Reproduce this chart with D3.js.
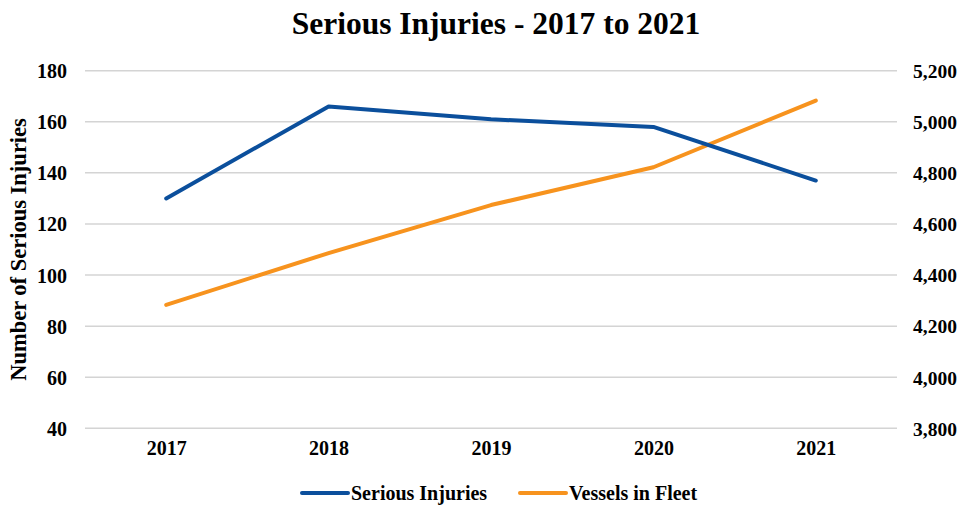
<!DOCTYPE html>
<html>
<head>
<meta charset="utf-8">
<script src="https://cdn.jsdelivr.net/npm/d3@7"></script>
<style>
  html, body { margin: 0; padding: 0; background: #fff; }
  svg text { font-family: "Liberation Serif", "Times New Roman", serif; font-weight: bold; fill: #000; }
</style>
</head>
<body>
<svg id="chart" width="961" height="505"></svg>
<script>
// Yearly figures
const years = ["2017", "2018", "2019", "2020", "2021"];
const seriousInjuries = [130, 166, 161, 158, 137];
const vesselsInFleet = [4283, 4486, 4674, 4822, 5083];

// Axis ticks
const leftTicks = [40, 60, 80, 100, 120, 140, 160, 180];
const rightTicks = [3800, 4000, 4200, 4400, 4600, 4800, 5000, 5200];

const seriesNames = ["Serious Injuries", "Vessels in Fleet"];
const colors = ["#0b4f9c", "#f7931e"];

const svg = d3.select("#chart");
const plot = { left: 85, right: 897, top: 70.7, bottom: 428.3 };

const x = d3.scalePoint().domain(years).range([plot.left, plot.right]).padding(0.5);
const yL = d3.scaleLinear().domain([40, 180]).range([plot.bottom, plot.top]);
const yR = d3.scaleLinear().domain([3800, 5200]).range([plot.bottom, plot.top]);

// Title
svg.append("text")
  .attr("x", 496).attr("y", 34)
  .attr("text-anchor", "middle")
  .style("font-size", "31.5px")
  .text("Serious Injuries - 2017 to 2021");

// Horizontal gridlines
svg.append("g").selectAll("line").data(leftTicks).join("line")
  .attr("x1", plot.left).attr("x2", plot.right)
  .attr("y1", d => yL(d)).attr("y2", d => yL(d))
  .attr("stroke", "#d4d4d4").attr("stroke-width", 1.5);

// Left axis labels
const leftAxis = d3.axisLeft(yL).tickValues(leftTicks).tickSize(0).tickPadding(18)
  .tickFormat(d3.format("d"));
const gL = svg.append("g").attr("transform", `translate(${plot.left},0)`).call(leftAxis);
gL.select(".domain").remove();
gL.selectAll("text").style("font-size", "20px").style("font-family", null).attr("dy", "0.35em");

// Right axis labels
const rightAxis = d3.axisRight(yR).tickValues(rightTicks).tickSize(0).tickPadding(16)
  .tickFormat(d3.format(","));
const gR = svg.append("g").attr("transform", `translate(${plot.right},0)`).call(rightAxis);
gR.select(".domain").remove();
gR.selectAll("text").style("font-size", "19.5px").style("font-family", null).attr("dy", "0.35em");

// Category axis labels
const bottomAxis = d3.axisBottom(x).tickSize(0).tickPadding(13);
const gB = svg.append("g").attr("transform", `translate(0,${plot.bottom})`).call(bottomAxis);
gB.select(".domain").remove();
gB.selectAll("text").style("font-size", "20px").style("font-family", null);

// Left axis title
svg.append("text")
  .attr("transform", `translate(26,${(plot.top + plot.bottom) / 2}) rotate(-90)`)
  .attr("text-anchor", "middle")
  .style("font-size", "22.5px")
  .text("Number of Serious Injuries");

// Lines
const lineL = d3.line().x((d, i) => x(years[i])).y(d => yL(d));
const lineR = d3.line().x((d, i) => x(years[i])).y(d => yR(d));

svg.append("path").datum(vesselsInFleet)
  .attr("d", lineR).attr("fill", "none")
  .attr("stroke", colors[1]).attr("stroke-width", 4)
  .attr("stroke-linejoin", "round").attr("stroke-linecap", "round");

svg.append("path").datum(seriousInjuries)
  .attr("d", lineL).attr("fill", "none")
  .attr("stroke", colors[0]).attr("stroke-width", 4)
  .attr("stroke-linejoin", "round").attr("stroke-linecap", "round");

// Legend
const legendItems = [
  { name: seriesNames[0], color: colors[0], x: 302 },
  { name: seriesNames[1], color: colors[1], x: 520 }
];
const lg = svg.append("g").selectAll("g").data(legendItems).join("g")
  .attr("transform", d => `translate(${d.x},493)`);
lg.append("line").attr("x1", 0).attr("x2", 46).attr("y1", 0).attr("y2", 0)
  .attr("stroke", d => d.color).attr("stroke-width", 4).attr("stroke-linecap", "round");
lg.append("text").attr("x", 49).attr("y", 7)
  .style("font-size", "20px")
  .text(d => d.name);
</script>
</body>
</html>
